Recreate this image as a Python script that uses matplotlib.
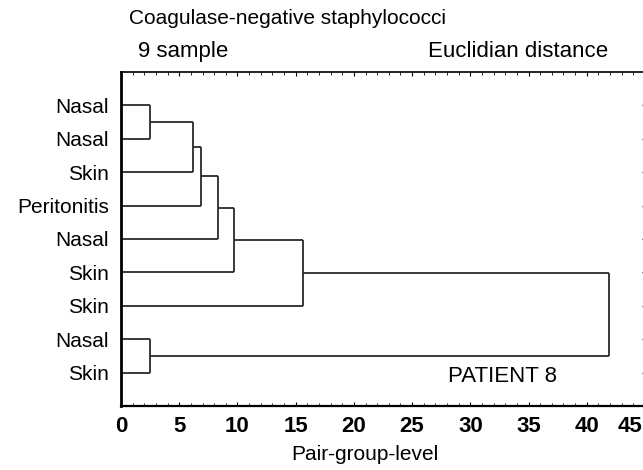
import matplotlib.pyplot as plt
from matplotlib.ticker import MultipleLocator

plt.rcParams['font.family'] = ['Liberation Sans', 'DejaVu Sans']

# leaves, top to bottom
leaf_labels = ['Nasal', 'Nasal', 'Skin', 'Peritonitis', 'Nasal', 'Skin', 'Skin', 'Nasal', 'Skin']
# merges: (child a, child b, linkage distance); ids >= 9 are earlier merges
merges = [(0, 1, 2.5), (9, 2, 6.2), (10, 3, 6.9), (11, 4, 8.3),
          (12, 5, 9.7), (13, 6, 15.6), (7, 8, 2.5), (14, 15, 41.9)]
x_ticks = [0, 5, 10, 15, 20, 25, 30, 35, 40, 45]

fig = plt.figure(figsize=(6.43, 4.7), dpi=100)
ax = fig.add_axes([121 / 643, 64 / 470, 524 / 643, 334 / 470])

n = len(leaf_labels)
ypos = {i: i + 1 for i in range(n)}
xpos = {i: 0.0 for i in range(n)}
col = '#2a2a2a'
for k, (a, b, h) in enumerate(merges):
    node = n + k
    for c in (a, b):
        ax.plot([xpos[c], h], [ypos[c], ypos[c]], color=col, lw=1.3, solid_capstyle='butt')
    ax.plot([h, h], [ypos[a], ypos[b]], color=col, lw=1.3, solid_capstyle='butt')
    ypos[node] = (ypos[a] + ypos[b]) / 2
    xpos[node] = h

ax.set_xlim(0, 45)
ax.set_ylim(10, 0)
ax.set_yticks(range(1, n + 1))
ax.set_yticklabels(leaf_labels, fontsize=15)
ax.tick_params(axis='y', left=False, right=True, direction='in', length=2, pad=8.5)

ax.xaxis.set_minor_locator(MultipleLocator(1))
ax.set_xticks(x_ticks)
# last label sits at the cropped right edge, so draw it shifted left
ax.set_xticklabels([str(t) for t in x_ticks[:-1]] + [''], fontsize=16, fontweight='bold')
ax.annotate(str(x_ticks[-1]), xy=(x_ticks[-1], 0), xycoords=('data', 'axes fraction'),
            xytext=(-11, -7), textcoords='offset points', ha='center', va='top',
            fontsize=16, fontweight='bold')
ax.tick_params(axis='x', which='both', direction='in', top=True, bottom=True, length=3, pad=7)
ax.tick_params(axis='x', which='minor', length=2)

ax.spines['right'].set_visible(False)
ax.spines['left'].set_linewidth(2)
ax.spines['bottom'].set_linewidth(1.6)
ax.spines['top'].set_linewidth(1.2)

ax.set_xlabel('Pair-group-level', fontsize=15)
ax.xaxis.set_label_coords(0.466, -0.118)
ax.text(32.8, 9.13, 'PATIENT 8', fontsize=16, ha='center', va='center')

fig.text(129 / 643, 1 - 18 / 470, 'Coagulase-negative staphylococci', fontsize=15, va='center')
fig.text(138 / 643, 1 - 52 / 470, '9 sample', fontsize=16, va='center')
fig.text(608 / 643, 1 - 52 / 470, 'Euclidian distance', fontsize=16, va='center', ha='right')

plt.savefig('out.png', dpi=100)
